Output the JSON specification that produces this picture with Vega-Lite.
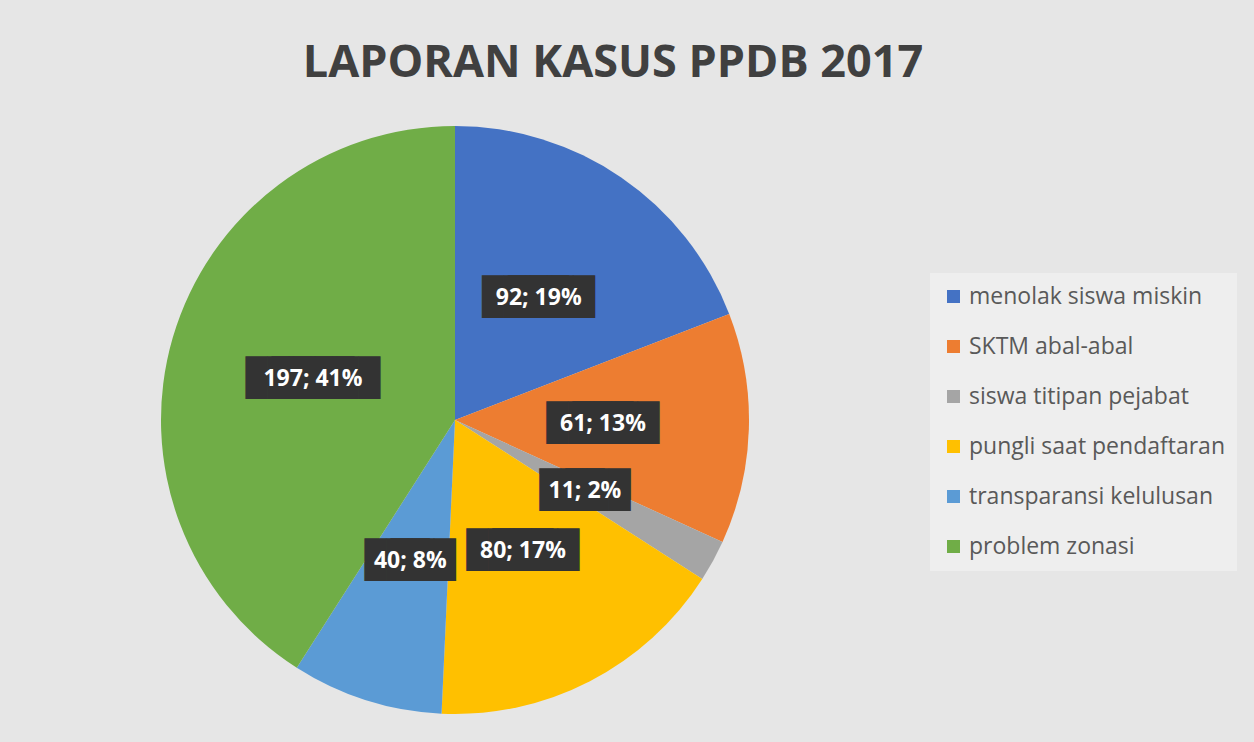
{
  "$schema": "https://vega.github.io/schema/vega-lite/v6.json",
  "autosize": {"type": "none"},
  "padding": {"top": 98, "left": 0, "right": 344, "bottom": 0},
  "width": 910,
  "height": 644,
  "background": "#e6e6e6",
  "title": {
    "text": "LAPORAN KASUS PPDB 2017",
    "font": "Open Sans",
    "fontSize": 45,
    "fontWeight": "bold",
    "color": "#404040",
    "anchor": "middle",
    "frame": "group",
    "dx": 158,
    "offset": 12
  },
  "data": {
    "values": [
      {"urutan": 1, "kategori": "menolak siswa miskin", "jumlah": 92, "label": "92; 19%"},
      {"urutan": 2, "kategori": "SKTM abal-abal", "jumlah": 61, "label": "61; 13%"},
      {"urutan": 3, "kategori": "siswa titipan pejabat", "jumlah": 11, "label": "11; 2%"},
      {"urutan": 4, "kategori": "pungli saat pendaftaran", "jumlah": 80, "label": "80; 17%"},
      {"urutan": 5, "kategori": "transparansi kelulusan", "jumlah": 40, "label": "40; 8%"},
      {"urutan": 6, "kategori": "problem zonasi", "jumlah": 197, "label": "197; 41%"}
    ]
  },
  "transform": [
    {"calculate": "pad('', length(datum.label) - 3, '█')", "as": "kotak"}
  ],
  "encoding": {
    "theta": {"field": "jumlah", "type": "quantitative", "stack": true},
    "order": {"field": "urutan", "type": "ordinal"}
  },
  "layer": [
    {
      "mark": {"type": "arc", "outerRadius": 294},
      "encoding": {
        "color": {
          "field": "kategori",
          "type": "nominal",
          "sort": null,
          "scale": {
            "domain": ["menolak siswa miskin", "SKTM abal-abal", "siswa titipan pejabat", "pungli saat pendaftaran", "transparansi kelulusan", "problem zonasi"],
            "range": ["#4472C4", "#ED7D31", "#A5A5A5", "#FFC000", "#5B9BD5", "#70AD47"]
          },
          "legend": {
            "orient": "none",
            "legendX": 930,
            "legendY": 175,
            "title": null,
            "fillColor": "#eeeeee",
            "padding": 12,
            "labelFont": "Open Sans",
            "labelFontSize": 23,
            "labelColor": "#595959",
            "labelOffset": 4,
            "labelLimit": 0,
            "symbolType": "square",
            "symbolSize": 170,
            "symbolStrokeWidth": 0,
            "rowPadding": 26
          }
        }
      }
    },
    {
      "mark": {"type": "text", "radius": 148, "font": "DejaVu Sans Mono", "fontSize": 36, "color": "#333333", "dx": -13},
      "encoding": {"text": {"field": "kotak", "type": "nominal"}}
    },
    {
      "mark": {"type": "text", "radius": 148, "font": "DejaVu Sans Mono", "fontSize": 36, "color": "#333333", "dx": 13},
      "encoding": {"text": {"field": "kotak", "type": "nominal"}}
    },
    {
      "mark": {"type": "text", "radius": 148, "font": "Open Sans", "fontSize": 23, "fontWeight": "bold", "color": "#ffffff"},
      "encoding": {"text": {"field": "label", "type": "nominal"}}
    }
  ],
  "config": {"view": {"stroke": null}}
}
